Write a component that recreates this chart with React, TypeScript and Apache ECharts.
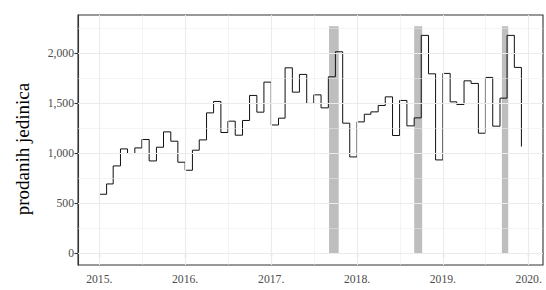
import React, { useEffect, useRef } from "react";
import * as echarts from "echarts";

// Monthly units sold, Jan 2015 – Dec 2019
const sales2015 = [593, 696, 876, 1046, 1000, 1056, 1140, 926, 1063, 1216, 1123, 913];
const sales2016 = [833, 1033, 1136, 1406, 1520, 1210, 1323, 1183, 1330, 1580, 1413, 1713];
const sales2017 = [1285, 1353, 1856, 1613, 1790, 1500, 1586, 1456, 1766, 2016, 1303, 966];
const sales2018 = [1316, 1392, 1416, 1480, 1566, 1180, 1530, 1276, 1356, 2180, 1796, 936];
const sales2019 = [1800, 1516, 1490, 1726, 1700, 1203, 1760, 1273, 1553, 2180, 1860, 1070];
const years = [2015, 2016, 2017, 2018, 2019];
const salesByYear = [sales2015, sales2016, sales2017, sales2018, sales2019];

// Axis ticks
const xTickYears = [2015, 2016, 2017, 2018, 2019, 2020];
const xMinorDates = ["2015-07-02", "2016-07-02", "2017-07-02", "2018-07-02", "2019-07-02"];
const yTicks = [0, 500, 1000, 1500, 2000];
const yMinor = [250, 750, 1250, 1750, 2250];

// Shaded periods
const shadeStarts = ["2017-09-04", "2018-09-01", "2019-09-09"];
const shadeEnds = ["2017-10-15", "2018-10-05", "2019-10-06"];
const shadeTop = 2270;

const yTitle = "prodanih jedinica";

const DAY = 86400000;
const T = (s: string) => Date.parse(s + "T00:00:00Z");

export default function App() {
  const ref = useRef<HTMLDivElement>(null);
  useEffect(() => {
    document.body.style.margin = "0";
    if (!ref.current) return;
    const chart = echarts.init(ref.current, undefined, { renderer: "svg" });

    const points: [number, number][] = [];
    years.forEach((y, yi) => {
      salesByYear[yi].forEach((v, m) => {
        points.push([Date.UTC(y, m, 1), v]);
      });
    });
    const yearTs = xTickYears.map((y) => Date.UTC(y, 0, 1));
    const t0 = Date.UTC(2015, 0, 1);
    const font = "Liberation Serif";

    const gridLines: any[] = [];
    yTicks.forEach((v) => gridLines.push({ yAxis: v, lineStyle: { color: "#EBEBEB", width: 1.1, type: "solid" } }));
    yMinor.forEach((v) => gridLines.push({ yAxis: v, lineStyle: { color: "#EBEBEB", width: 0.55, type: "solid" } }));
    yearTs.forEach((v) => gridLines.push({ xAxis: v, lineStyle: { color: "#EBEBEB", width: 1.1, type: "solid" } }));
    xMinorDates.forEach((d) => gridLines.push({ xAxis: T(d), lineStyle: { color: "#EBEBEB", width: 0.55, type: "solid" } }));

    const areas = shadeStarts.map((s, i) => [
      { xAxis: T(s), yAxis: 0 },
      { xAxis: T(shadeEnds[i]), yAxis: shadeTop },
    ]);

    chart.setOption({
      animation: false,
      textStyle: { fontFamily: font },
      grid: {
        left: 78,
        right: 3,
        top: 15,
        bottom: 25,
        show: true,
        borderColor: "#333333",
        borderWidth: 1.1,
        containLabel: false,
      },
      xAxis: {
        type: "value",
        min: t0 - 90.6 * DAY,
        max: t0 + 1886.8 * DAY,
        splitLine: { show: false },
        axisLine: { show: true, lineStyle: { color: "#333333", width: 1.1 } },
        axisTick: { show: true, length: 3.5, customValues: yearTs, lineStyle: { color: "#333333", width: 1.1 } },
        axisLabel: {
          customValues: yearTs,
          formatter: (v: number) => new Date(v).getUTCFullYear() + ".",
          color: "#4D4D4D",
          fontFamily: font,
          fontSize: 11.7,
          margin: 8,
        },
      },
      yAxis: {
        type: "value",
        min: -113.5,
        max: 2383.5,
        splitLine: { show: false },
        axisLine: { show: true, lineStyle: { color: "#333333", width: 1.1 } },
        axisTick: { show: true, length: 3.5, customValues: yTicks, lineStyle: { color: "#333333", width: 1.1 } },
        axisLabel: {
          customValues: yTicks,
          formatter: (v: number) => v.toLocaleString("en-US"),
          color: "#4D4D4D",
          fontFamily: font,
          fontSize: 11.7,
          margin: 4,
        },
        name: yTitle,
        nameLocation: "middle",
        nameGap: 46,
        nameRotate: 90,
        nameTextStyle: { color: "#000000", fontFamily: font, fontSize: 19, padding: [0, 18, 0, 0] },
      },
      series: [
        {
          type: "line",
          z: 1,
          data: [],
          symbol: "none",
          silent: true,
          markLine: {
            silent: true,
            symbol: "none",
            label: { show: false },
            data: gridLines,
          },
        },
        {
          type: "line",
          z: 2,
          data: [],
          symbol: "none",
          silent: true,
          markArea: {
            silent: true,
            itemStyle: { color: "#BEBEBE" },
            data: areas,
          },
        },
        {
          type: "line",
          z: 3,
          step: "end",
          symbol: "none",
          data: points,
          lineStyle: { color: "#111111", width: 1 },
        },
      ],
    });
    return () => chart.dispose();
  }, []);
  return <div ref={ref} style={{ width: 546, height: 290 }} />;
}
